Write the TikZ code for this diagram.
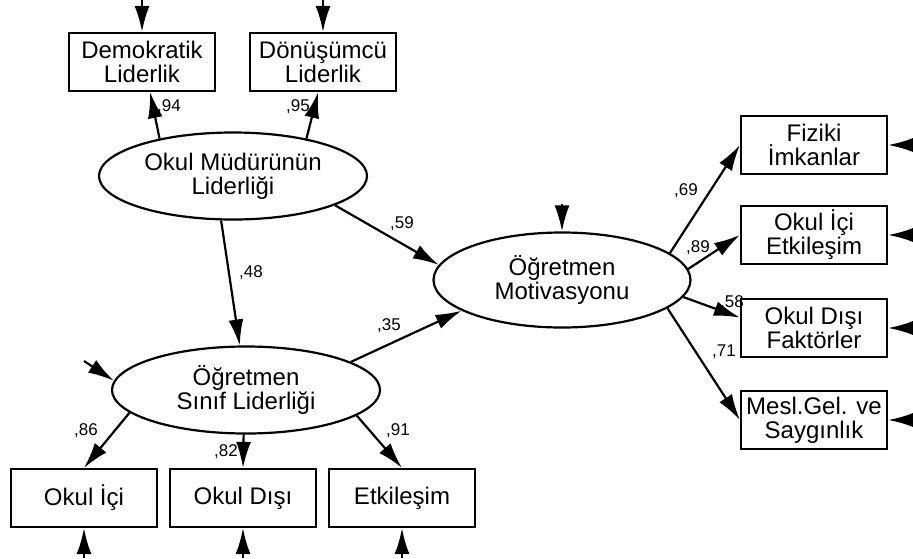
\documentclass[tikz,border=0pt]{standalone}
\usepackage{fontspec}
\setmainfont{Liberation Sans}
\usetikzlibrary{arrows.meta,shapes.geometric}

\newcommand{\bigtxt}{\fontsize{24}{24}\selectfont}
\newcommand{\coeftxt}{\fontsize{17}{17}\selectfont}

\tikzset{
  obs/.style={draw, line width=2.2pt, minimum width=146pt, minimum height=58pt,
              inner sep=0pt, align=center, font=\bigtxt},
  lat/.style={draw, ellipse, line width=2.2pt, minimum width=268pt, minimum height=87pt,
              inner sep=0pt, align=center, font=\bigtxt},
  coef/.style={inner sep=0pt, font=\coeftxt},
  reg/.style={-{Latex[length=26pt,width=15pt]}, line width=2.2pt},
}

\begin{document}
\begin{tikzpicture}[x=1pt, y=-1pt]
  \useasboundingbox (0,0) rectangle (913,558);

  % latent variables
  \node[lat] (olm) at (233,176) {Okul Müdürünün\\Liderliği};
  \node[lat, minimum width=257pt, minimum height=95pt] (mot) at (562,280) {Öğretmen\\Motivasyonu};
  \node[lat] (osl) at (246,390) {Öğretmen\\Sınıf Liderliği};

  % observed variables
  \node[obs] (demo) at (142,62)  {Demokratik\\Liderlik};
  \node[obs] (donu) at (323,62)  {Dönüşümcü\\Liderlik};
  \node[obs] (oi)   at (84,498)  {Okul İçi};
  \node[obs] (od)   at (243,498) {Okul Dışı};
  \node[obs] (et)   at (402,498) {Etkileşim};
  \node[obs] (fiz)  at (814,145) {Fiziki\\İmkanlar};
  \node[obs] (oie)  at (814,235) {Okul İçi\\Etkileşim};
  \node[obs] (odf)  at (814,328) {Okul Dışı\\Faktörler};
  \node[obs] (mesl) at (814,420) {Mesl.Gel. ve\\Saygınlık};

  % error terms
  \coordinate (edemo) at (142,0);
  \coordinate (edonu) at (323,0);
  \coordinate (emot)  at (562,204);
  \coordinate (eosl)  at (84,361);
  \coordinate (efiz)  at (913,145);
  \coordinate (eoie)  at (913,235);
  \coordinate (eodf)  at (913,328);
  \coordinate (emesl) at (913,420);
  \coordinate (eoi)   at (84,558);
  \coordinate (eod)   at (243,558);
  \coordinate (eet)   at (402,558);

  \foreach \v in {demo,donu,mot,fiz,oie,odf,mesl,oi,od,et}
    \draw[reg] (e\v) -- (\v);
  \draw[reg] (eosl) -- (osl.176);

  % paths
  \draw[reg] (olm.153) -- (demo.285);
  \draw[reg] (olm.27)  -- (donu.261);
  \draw[reg] (olm.344) -- (mot.173);
  \draw[reg] (olm.255) -- (osl.98);
  \draw[reg] (osl.15)  -- (mot.197);
  \draw[reg] (osl.191) -- (oi.north);
  \draw[reg] (osl.267) -- (od.north);
  \draw[reg] (osl.347) -- (et.north);
  \draw[reg] (mot.14)  -- (fiz.west);
  \draw[reg] (mot.5)   -- (oie.west);
  \draw[reg] (mot.352) -- (odf.172);
  \draw[reg] (mot.345) -- (mesl.west);

  % coefficients
  \node[coef] (c94) at (169,107) {,94};
  \node[coef] (c95) at (298,107) {,95};
  \node[coef] (c59) at (402,224) {,59};
  \node[coef] (c48) at (251,273) {,48};
  \node[coef] (c35) at (389,326) {,35};
  \node[coef] (c69) at (686,191) {,69};
  \node[coef] (c89) at (698,248) {,89};
  \node[coef] (c58) at (732,303) {,58};
  \node[coef] (c71) at (724,352) {,71};
  \node[coef] (c86) at (86,431)  {,86};
  \node[coef] (c82) at (226,452) {,82};
  \node[coef] (c91) at (398,431) {,91};
\end{tikzpicture}
\end{document}
